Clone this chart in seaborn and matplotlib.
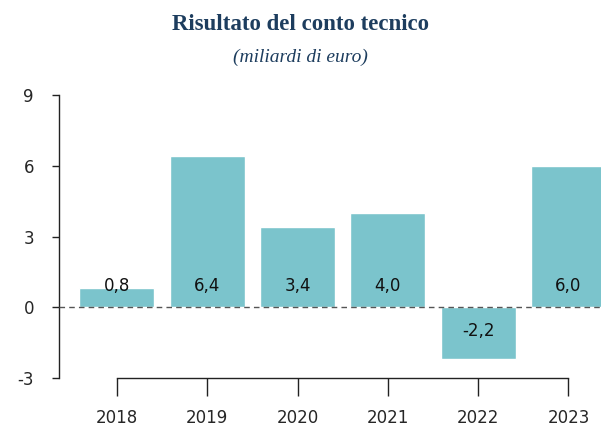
import matplotlib
matplotlib.use('Agg')
import matplotlib.pyplot as plt
import seaborn as sns
import pandas as pd

sns.set_style('white')
plt.rcParams['font.family'] = ['DejaVu Sans']

# data
years = ['2018', '2019', '2020', '2021', '2022', '2023']
values = [0.8, 6.4, 3.4, 4.0, -2.2, 6.0]
labels = ['0,8', '6,4', '3,4', '4,0', '-2,2', '6,0']
yticks = [-3, 0, 3, 6, 9]

df = pd.DataFrame({'year': years, 'value': values})

fig = plt.figure(figsize=(6.01, 4.26), dpi=100)
ax = fig.add_axes([59 / 601, 48 / 426, 1 - 59 / 601, 283 / 426])

sns.barplot(data=df, x='year', y='value', color='#7bc4cc', width=0.83,
            saturation=1, ax=ax, zorder=2)

ax.set_xlim(-0.642, 5.36)
ax.set_ylim(-3, 9)
ax.axhline(0, color='#555555', linestyle=(0, (4, 3)), linewidth=1, zorder=3)

for i, (v, lab) in enumerate(zip(values, labels)):
    ypos = 0.9 if v > 0 else -1.0
    ax.text(i, ypos, lab, ha='center', va='center', fontsize=12, color='#111111', zorder=4)

ax.set_yticks(yticks)
ax.set_yticklabels([str(t) for t in yticks])
ax.set_xlabel('')
ax.set_ylabel('')

for s in ['top', 'right']:
    ax.spines[s].set_visible(False)
ax.spines['left'].set_color('#222222')
ax.spines['bottom'].set_color('#222222')
ax.spines['left'].set_linewidth(1)
ax.spines['bottom'].set_linewidth(1)
ax.spines['left'].set_bounds(-3, 9)
ax.spines['bottom'].set_bounds(0, 5)

ax.tick_params(axis='y', direction='out', length=5, width=1, color='#222222',
               labelsize=12, pad=13, left=True)
ax.tick_params(axis='x', direction='out', length=13, width=1, color='#222222',
               labelsize=12, pad=9, bottom=True)

fig.text(0.5, 1 - 24 / 426, 'Risultato del conto tecnico', ha='center', va='center',
         fontsize=16.5, fontweight='bold', color='#1d3d5e', family='Liberation Serif')
fig.text(0.5, 1 - 57 / 426, '(miliardi di euro)', ha='center', va='center',
         fontsize=14, style='italic', color='#1d3d5e', family='Liberation Serif')

fig.savefig('out.png', dpi=100)
